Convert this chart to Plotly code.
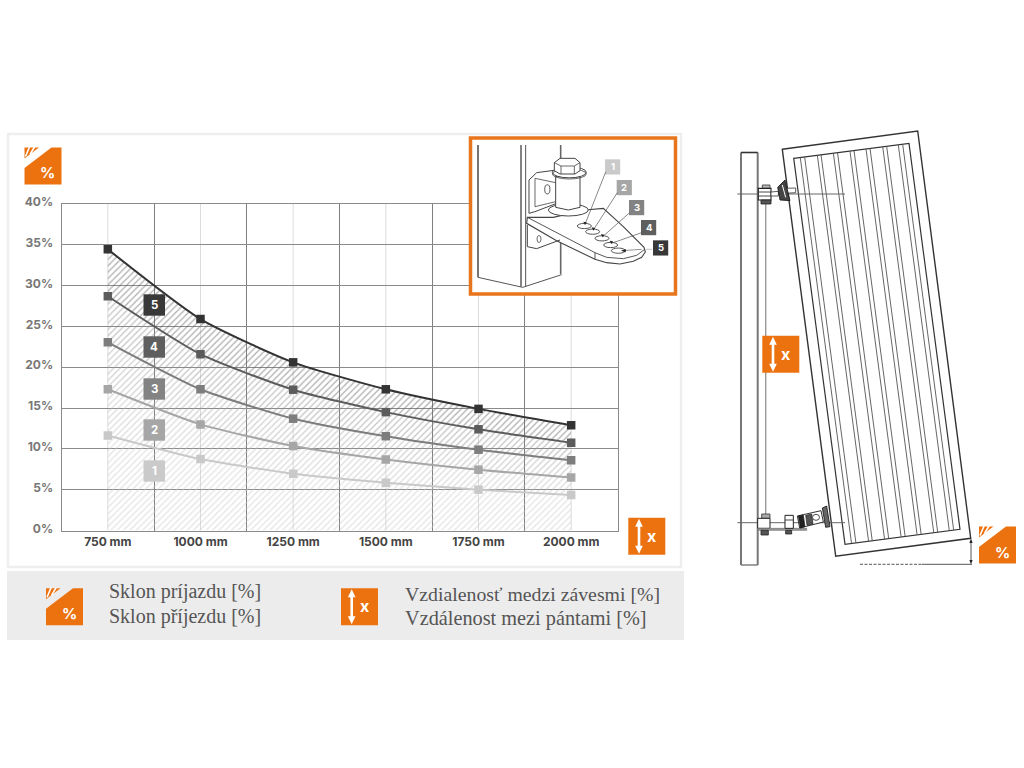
import plotly.graph_objects as go

# ---------- chart data ----------
categories = ["750 mm", "1000 mm", "1250 mm", "1500 mm", "1750 mm", "2000 mm"]
series_1 = [11.65, 8.75, 6.95, 5.85, 5.0, 4.35]
series_2 = [17.3, 13.0, 10.35, 8.7, 7.45, 6.5]
series_3 = [23.05, 17.3, 13.7, 11.55, 9.9, 8.6]
series_4 = [28.7, 21.6, 17.25, 14.5, 12.4, 10.75]
series_5 = [34.45, 25.9, 20.6, 17.3, 14.9, 12.9]
y_ticks = [0, 5, 10, 15, 20, 25, 30, 35, 40]
y_tick_labels = ["0%", "5%", "10%", "15%", "20%", "25%", "30%", "35%", "40%"]
badge_labels = ["1", "2", "3", "4", "5"]
legend_left = ["Sklon príjazdu [%]", "Sklon příjezdu [%]"]
legend_right = ["Vzdialenosť medzi závesmi [%]", "Vzdálenost mezi pántami [%]"]

W, H = 1024, 768
ORANGE = "#ec7210"
SANS = "Inter"
SERIF = "Liberation Serif"
line_colors = ["#c9c9c9", "#a6a6a6", "#7d7d7d", "#5c5c5c", "#333333"]
badge_colors = ["#cacaca", "#a6a6a6", "#838383", "#5f5f5f", "#383838"]
hatch_colors = ["#cccccc", "#bdbdbd", "#a8a8a8", "#8f8f8f", "#666666"]


def X(x):
    return x / W


def Y(y):
    return 1 - y / H


shapes = []
annotations = []


def line(x0, y0, x1, y1, color="#333", w=1.0, dash=None, layer="above"):
    ln = dict(color=color, width=w)
    if dash:
        ln["dash"] = dash
    shapes.append(dict(type="line", xref="paper", yref="paper", layer=layer,
                       x0=X(x0), y0=Y(y0), x1=X(x1), y1=Y(y1), line=ln))


def rect(x0, y0, x1, y1, fill="rgba(0,0,0,0)", color="rgba(0,0,0,0)", w=0, layer="above"):
    shapes.append(dict(type="rect", xref="paper", yref="paper", layer=layer,
                       x0=X(x0), y0=Y(y0), x1=X(x1), y1=Y(y1),
                       fillcolor=fill, line=dict(color=color, width=w)))


def poly(points, fill="rgba(0,0,0,0)", color="rgba(0,0,0,0)", w=0, closed=True, layer="above"):
    d = "M " + " L ".join(f"{X(x):.5f} {Y(y):.5f}" for x, y in points)
    if closed:
        d += " Z"
    shapes.append(dict(type="path", xref="paper", yref="paper", layer=layer, path=d,
                       fillcolor=fill, line=dict(color=color, width=w)))


def ell(cx, cy, rx, ry, fill="rgba(0,0,0,0)", color="#333", w=1.0):
    shapes.append(dict(type="circle", xref="paper", yref="paper", layer="above",
                       x0=X(cx - rx), x1=X(cx + rx), y0=Y(cy - ry), y1=Y(cy + ry),
                       fillcolor=fill, line=dict(color=color, width=w)))


def text(x, y, s, size, color="white", family=SANS, weight="bold", anchor="center"):
    annotations.append(dict(xref="paper", yref="paper", x=X(x), y=Y(y), text=s, showarrow=False,
                            xanchor=anchor, yanchor="middle",
                            font=dict(family=family, size=size, color=color, weight=weight)))


def pct_icon(x0, y0):
    s = 37
    poly([(x0 + 27, y0), (x0 + s, y0), (x0 + s, y0 + s), (x0, y0 + s), (x0, y0 + 20.5)], fill=ORANGE)
    poly([(x0, y0), (x0 + 14.5, y0), (x0, y0 + 11)], fill=ORANGE)
    line(x0 + 5, y0 - 0.5, x0 + 1, y0 + 9, "white", 1.6)
    line(x0 + 10, y0 - 0.5, x0 + 5.5, y0 + 7, "white", 1.6)
    text(x0 + 23, y0 + 25.5, "%", 15)


def x_icon(x0, y0):
    s = 37
    rect(x0, y0, x0 + s, y0 + s, fill=ORANGE)
    ax = x0 + 10.7
    line(ax, y0 + 6, ax, y0 + s - 6, "white", 2.6)
    poly([(ax, y0 + 1), (ax + 3.8, y0 + 9), (ax - 3.8, y0 + 9)], fill="white")
    poly([(ax, y0 + s - 1), (ax + 3.8, y0 + s - 9), (ax - 3.8, y0 + s - 9)], fill="white")
    text(x0 + 23.5, y0 + 18, "x", 16)


# ---------- panels ----------
rect(8, 134, 681, 567, fill="white", color="#eeeeee", w=2.5, layer="below")
rect(7, 571, 684, 640, fill="#ececec", layer="below")

# light centre gridlines, one per category
for i in range(len(categories)):
    shapes.append(dict(type="line", xref="x", yref="y", layer="below", x0=i, x1=i, y0=0, y1=40,
                       line=dict(color="#dcdcdc", width=1)))

# ---------- chart icons and number badges ----------
pct_icon(24.5, 147.5)
x_icon(628.3, 517.7)
badge_y = [471, 430, 389, 347, 305]
for lab, col, yc in zip(badge_labels, badge_colors, badge_y):
    rect(143.5, yc - 10.7, 165, yc + 10.7, fill=col)
    text(154.3, yc, lab, 11.5)

# ---------- inset ----------
rect(470.5, 138, 675.5, 294, fill="white", color="#e8751c", w=3.5)


def c(x, y):
    return (340 + x / 3, 130 + y / 3)


def f(x, y):
    return (515 + x / 3, 150 + y / 3)


def cl(pts, color="#444", w=1.0, closed=False, fill="rgba(0,0,0,0)"):
    poly([c(*p) for p in pts], fill=fill, color=color, w=w, closed=closed)


cl([(414, 45), (414, 442)], "#666", 1.8)
cl([(543, 45), (543, 470)], "#666", 1.6)
cl([(557, 45), (557, 470)], "#555", 1.0)
cl([(662, 45), (662, 105)], "#666", 1.6)
cl([(662, 335), (662, 432)], "#666", 1.6)
cl([(414, 442), (548, 472), (665, 434)], "#555", 1.0)
# plate
cl([(562, 262), (640, 262), (735, 240), (790, 235), (850, 290), (912, 352), (916, 366), (905, 382), (880, 394),
    (840, 402), (800, 398), (765, 388), (650, 332), (560, 280)], "#444", 1.1, closed=True, fill="white")
cl([(562, 262), (765, 368), (800, 382), (850, 386), (890, 376), (914, 358)], "#444", 0.9)
cl([(765, 368), (765, 388)], "#444", 0.9)
# lower bracket
cl([(562, 285), (562, 350), (590, 356), (660, 330)], "#444", 1.0)
ell(*c(597, 327), 2.0, 3.5, color="#444", w=0.8)
# bracket behind the bolt
poly([f(42, 190), f(42, 90), f(65, 68), f(125, 60), f(125, 160), f(60, 185)], fill="white", color="#444", w=1.0)
poly([f(60, 85), f(60, 170)], color="#444", w=0.8, closed=False)
poly([f(60, 85), f(122, 98)], color="#444", w=0.8, closed=False)
poly([f(60, 170), f(122, 155)], color="#444", w=0.8, closed=False)
ell(*f(97, 118), 2.6, 4.6, color="#444", w=0.9)
# washer, cylinder, flange and hex bolt
ell(*f(160, 180), 20, 6, fill="white", color="#444", w=1.0)
poly([f(122, 80), f(195, 80), f(195, 172), f(160, 180), f(122, 172)], fill="white", color="#444", w=1.0)
ell(*f(163, 67), 17, 5.5, fill="white", color="#444", w=1.0)
ell(*f(163, 72), 17, 5, fill="rgba(0,0,0,0)", color="#444", w=0.8)
poly([f(118, 38), f(135, 25), f(180, 25), f(195, 38), f(195, 62), f(180, 72), f(135, 72), f(118, 62)],
     fill="white", color="#444", w=1.0)
poly([f(118, 38), f(138, 48), f(178, 48), f(195, 38)], color="#444", w=0.8, closed=False)
poly([f(138, 48), f(138, 72)], color="#444", w=0.8, closed=False)
poly([f(178, 48), f(178, 72)], color="#444", w=0.8, closed=False)
# slots and leader arrows
holes = [(733, 288), (758, 305), (786, 325), (812, 345), (835, 362)]
inset_badges = [(795, 88), (830, 150), (867, 210), (903, 270), (939, 331)]
for (hx, hy), (bx, by), lab, col in zip(holes, inset_badges, badge_labels, badge_colors):
    ell(*c(hx, hy), 7, 2.6, fill="white", color="#444", w=0.9)
    x0, y0 = c(bx, by)
    rect(x0, y0, x0 + 15.2, y0 + 15.2, fill=col)
    text(x0 + 7.6, y0 + 7.6, lab, 9.5)
    if lab == "5":
        line(*c(hx + 12, hy), *c(905, 358), "#666", 0.7)
        poly([c(hx + 8, hy), c(hx + 22, hy - 5), c(hx + 22, hy + 5)], fill="#222")
        line(*c(918, 358), *c(936, 358), "#aaa", 0.7)
    else:
        cl([(hx + 2, hy - 5), (bx + 2, by + 38)], "#555", 0.7)
        poly([c(hx + 2, hy - 3), c(hx - 3, hy - 13), c(hx + 7, hy - 11)], fill="#222")

# ---------- gate drawing ----------


def d(x, y):
    return (735 + x / 3, 170 + y / 3)


def e(x, y):
    return (735 + x / 3, 500 + y / 3)


# post and reference line
line(741, 152.5, 741, 565, "#777", 2)
line(757.7, 152.5, 757.7, 565, "#777", 2)
line(741, 152.5, 757.7, 152.5, "#333", 1.6)
line(741, 565, 757.7, 565, "#777", 1.4)
line(765.7, 203, 765.7, 515, "#999", 1.4)

# gate frame
poly([(782.3, 149.3), (917.7, 131), (970.7, 538.3), (835.7, 556.3)], color="#333", w=1.4)
inner = [(793.7, 158.3), (909, 143.3), (960, 529.3), (845, 544.3)]
poly(inner, color="#333", w=1.2)
for t in [.057, .095, .205, .237, .344, .38, .488, .523, .627, .662, .772, .806, .907, .945]:
    line(inner[0][0] + t * (inner[1][0] - inner[0][0]), inner[0][1] + t * (inner[1][1] - inner[0][1]),
         inner[3][0] + t * (inner[2][0] - inner[3][0]), inner[3][1] + t * (inner[2][1] - inner[3][1]),
         "#555", 0.9)

# top hinge
line(737.3, 194, 845, 194, "#666", 1.0)
poly([d(82, 45), d(105, 45), d(105, 55), d(82, 55)], fill="#bbb", color="#333", w=0.8)
poly([d(70, 55), d(108, 55), d(108, 90), d(70, 90)], fill="white", color="#222", w=1.1)
line(*d(70, 66), *d(108, 66), "#333", 0.9)
line(*d(70, 78), *d(108, 78), "#333", 0.9)
poly([d(78, 90), d(108, 90), d(108, 102), d(78, 102)], fill="#555", color="#222", w=0.8)
poly([d(108, 66), d(130, 64), d(130, 78), d(108, 78)], fill="white", color="#333", w=0.8)
poly([d(150, 55), d(182, 54), d(182, 68), d(150, 70)], fill="white", color="#333", w=0.8)
poly([d(128, 52), d(150, 30), d(165, 92), d(135, 90)], fill="#444", color="#111", w=0.8)
line(*d(142, 45), *d(152, 82), "white", 1.0)
# bottom hinge
line(737.3, 522.7, 845, 522.7, "#666", 1.0)
poly([e(80, 42), e(105, 42), e(105, 55), e(80, 55)], fill="#aaa", color="#333", w=0.8)
poly([e(68, 55), e(105, 55), e(105, 85), e(68, 85)], fill="white", color="#222", w=1.0)
poly([e(68, 85), e(215, 85), e(215, 91), e(68, 91)], fill="#9a9a9a", color="#666", w=0.6)
poly([e(78, 91), e(100, 91), e(100, 105), e(78, 105)], fill="#555", color="#222", w=0.8)
poly([e(150, 46), e(175, 46), e(175, 85), e(150, 85)], fill="white", color="#222", w=1.0)
line(*e(150, 60), *e(175, 60), "#333", 0.9)
poly([e(152, 91), e(170, 91), e(170, 102), e(152, 102)], fill="#555", color="#222", w=0.8)
poly([e(187, 48), e(258, 32), e(265, 66), e(194, 84)], fill="white", color="#333", w=1)
poly([e(190, 48), e(205, 45), e(210, 80), e(196, 84)], fill="#222", color="#111", w=0.6)
poly([e(212, 46), e(230, 42), e(234, 72), e(216, 76)], fill="#555", color="#111", w=0.6)
ell(*e(243, 52), 3.5, 3, fill="white", color="#222", w=0.8)
poly([e(262, 24), e(275, 18), e(285, 80), e(272, 82)], fill="#666", color="#111", w=0.8)

# slope dimension
line(860, 564.3, 922, 564.3, "#444", 0.9, dash="3px,1.5px")
line(922, 564.3, 972, 564.3, "#444", 0.9)
line(971, 541, 971, 562, "#444", 0.9)
poly([(971, 538.5), (972.6, 543), (969.4, 543)], fill="#222")
poly([(971, 564.5), (972.6, 560), (969.4, 560)], fill="#222")
x_icon(762.3, 335.7)
pct_icon(979, 526.5)

# ---------- legend strip ----------
pct_icon(46, 588.3)
x_icon(341, 588.3)
text(107, 591, legend_left[0], 20, "#555", SERIF, "normal", "left")
text(107, 616, legend_left[1], 20, "#555", SERIF, "normal", "left")
text(403, 594, legend_right[0], 19.8, "#555", SERIF, "normal", "left")
text(403, 618, legend_right[1], 20.3, "#555", SERIF, "normal", "left")

# ---------- traces ----------
fig = go.Figure()
all_series = [series_1, series_2, series_3, series_4, series_5]
for i, vals in enumerate(all_series):
    fig.add_trace(go.Scatter(
        x=categories, y=vals, mode="lines+markers",
        line=dict(color=line_colors[i], width=2.0, shape="spline", smoothing=0.6),
        marker=dict(symbol="square", size=8.5, color=line_colors[i]),
        fill="tozeroy" if i == 0 else "tonexty",
        fillcolor="rgba(0,0,0,0)",
        fillpattern=dict(shape="/", fgcolor=hatch_colors[i], bgcolor="rgba(0,0,0,0)", size=4.5, solidity=0.3),
        hoverinfo="skip", showlegend=False,
    ))

fig.update_layout(
    width=W, height=H, margin=dict(l=0, r=0, t=0, b=0, pad=0, autoexpand=False),
    paper_bgcolor="white", plot_bgcolor="rgba(0,0,0,0)", showlegend=False,
    xaxis=dict(domain=[61.5 / W, 617.5 / W], type="category", categoryorder="array", categoryarray=categories,
               range=[-0.5, 5.5], tickson="boundaries", showgrid=True, gridcolor="#7f7f7f", gridwidth=1,
               showline=True, linecolor="#8a8a8a", linewidth=1, mirror=True, ticks="outside", ticklen=11,
               tickcolor="rgba(0,0,0,0)", zeroline=False,
               tickfont=dict(family=SANS, size=12, color="#444444", weight="bold")),
    yaxis=dict(domain=[1 - 530.5 / H, 1 - 204 / H], range=[0, 40], tickvals=y_ticks, ticktext=y_tick_labels,
               showgrid=True, gridcolor="#8a8a8a", gridwidth=1, showline=True, linecolor="#8a8a8a",
               linewidth=1, mirror=True, ticks="outside", ticklen=5, tickcolor="rgba(0,0,0,0)",
               zeroline=False, ticklabelshift=-2,
               tickfont=dict(family=SANS, size=12, color="#777777", weight="bold")),
    shapes=shapes, annotations=annotations,
)

fig.write_html("out.html", config=dict(displayModeBar=False),
               post_script="document.body.style.margin='0';document.documentElement.style.overflow='hidden';")
